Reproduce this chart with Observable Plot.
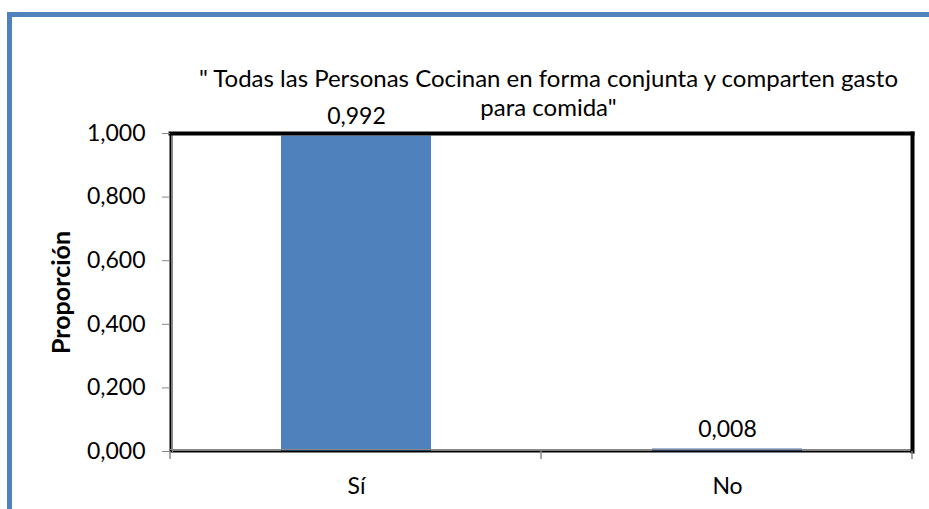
<!DOCTYPE html>
<html>
<head>
<meta charset="utf-8">
<script src="https://cdn.jsdelivr.net/npm/d3@7"></script>
<script src="https://cdn.jsdelivr.net/npm/@observablehq/plot@0.6"></script>
<style>
  html, body { margin: 0; padding: 0; background: #fff; overflow: hidden; }
  #wrap { position: relative; width: 929px; height: 509px; overflow: hidden; }
  #border { position: absolute; left: 7px; top: 12px; width: 1000px; height: 700px;
            border: 5px solid #4F81BD; box-sizing: border-box; pointer-events: none; }
  #chart { position: absolute; left: 0; top: 0; }
</style>
</head>
<body>
<div id="wrap"><div id="chart"></div><div id="border"></div></div>
<script>
const categories = ["Sí", "No"];
const values = [0.992, 0.008];
const valueLabels = ["0,992", "0,008"];
const yTicks = [0, 0.2, 0.4, 0.6, 0.8, 1.0];
const titleLine1 = "\" Todas las Personas Cocinan en forma conjunta y comparten gasto";
const titleLine2 = "para comida\"";
const yLabel = "Proporción";

const data = categories.map((c, i) => ({cat: c, value: values[i], label: valueLabels[i]}));
const fmt = d => d3.format(".3f")(d).replace(".", ",");
const font = "Lato, 'Open Sans', sans-serif";

const chart = Plot.plot({
  width: 929,
  height: 509,
  marginLeft: 170,
  marginRight: 17,
  marginTop: 133,
  marginBottom: 58,
  style: {fontFamily: font, fontSize: "23px", color: "#000", background: "transparent"},
  x: {domain: categories, paddingInner: 0.596, paddingOuter: 0.298, label: null},
  y: {domain: [0, 1], label: null},
  marks: [
    Plot.barY(data, {x: "cat", y: "value", fill: "#4F81BD"}),
    Plot.frame({stroke: "#000", strokeWidth: 2}),
    Plot.frame({anchor: "left", stroke: "#888", strokeWidth: 1, dx: 2}),
    Plot.frame({anchor: "bottom", stroke: "#888", strokeWidth: 1, dy: -2}),
    Plot.frame({anchor: "top", stroke: "#000", strokeWidth: 4}),
    Plot.frame({anchor: "right", stroke: "#000", strokeWidth: 4}),
    Plot.axisY({ticks: yTicks, tickFormat: fmt, tickSize: 8, tickPadding: 17, stroke: "#888", fill: "#000", fontSize: 23, label: null}),
    Plot.axisX({tickSize: 0, tickPadding: 26, fontSize: 23, fill: "#000", label: null}),
    Plot.text(data, {x: "cat", y: "value", text: "label", dy: -19, fontSize: 23, fill: "#000"}),
    Plot.text([titleLine1], {frameAnchor: "top", lineAnchor: "middle", dx: 7, dy: -54, fontSize: 24, fill: "#000", text: d => d}),
    Plot.text([titleLine2], {frameAnchor: "top", lineAnchor: "middle", dx: 7, dy: -25, fontSize: 24, fill: "#000", text: d => d}),
    Plot.text([yLabel], {frameAnchor: "left", textAnchor: "middle", dx: -109, rotate: -90, fontSize: 25, fontWeight: "bold", fill: "#000", text: d => d})
  ]
});

// category boundary ticks below the x axis, from the library's band scale
const xs = chart.scale("x");
const yS = chart.scale("y");
const bottom = yS.apply(0);
const step = xs.step;
const left = xs.range[0];
const bounds = d3.range(categories.length + 1).map(i => left + i * step);
d3.select(chart).append("g")
  .selectAll("line").data(bounds).join("line")
  .attr("x1", d => d).attr("x2", d => d)
  .attr("y1", bottom).attr("y2", bottom + 8)
  .attr("stroke", "#888").attr("stroke-width", 1.5);

document.getElementById("chart").append(chart);
</script>
</body>
</html>
